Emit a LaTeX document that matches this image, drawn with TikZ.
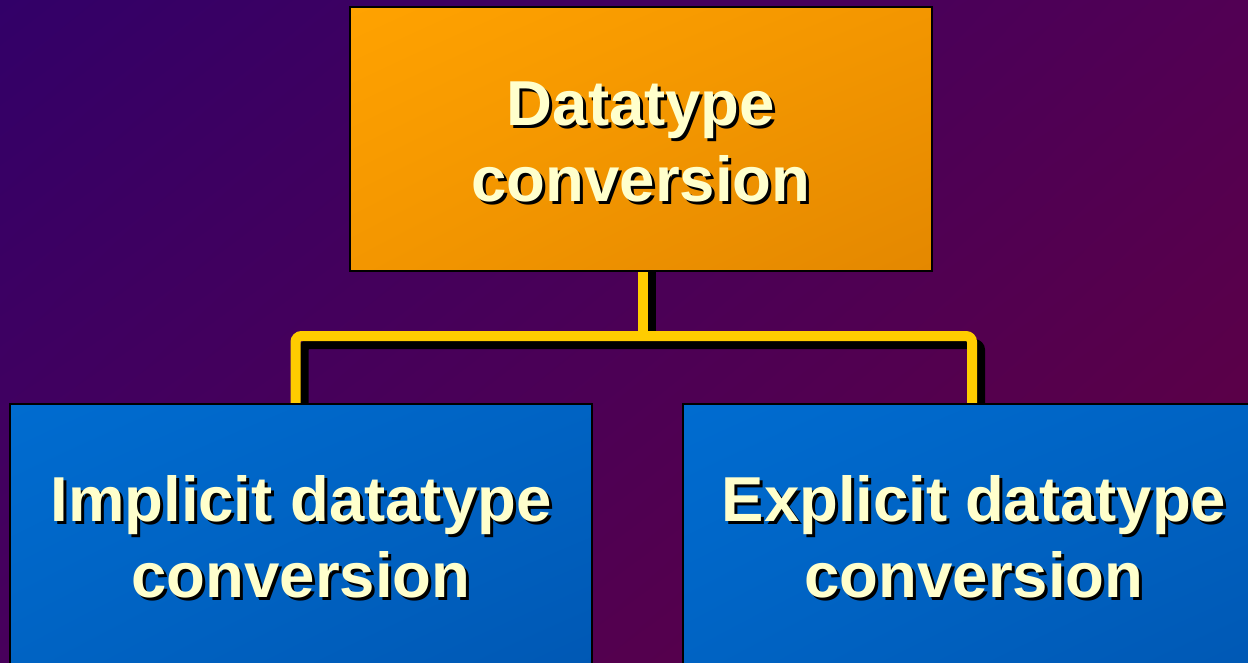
\documentclass[tikz,border=0pt]{standalone}
\usepackage{fontspec}
\usetikzlibrary{shadings}
\setmainfont{Liberation Sans}
\definecolor{bgUL}{RGB}{50,0,104}
\definecolor{bgUR}{RGB}{82,0,84}
\definecolor{bgLL}{RGB}{72,0,92}
\definecolor{bgLR}{RGB}{96,0,64}
\definecolor{orUL}{RGB}{255,162,0}
\definecolor{orMid}{RGB}{243,150,0}
\definecolor{orLR}{RGB}{228,136,0}
\definecolor{blUL}{RGB}{0,108,208}
\definecolor{blMid}{RGB}{0,99,195}
\definecolor{blLR}{RGB}{0,88,180}
\definecolor{labelyellow}{RGB}{255,255,204}
\definecolor{linkyellow}{RGB}{255,204,0}
% text with a black drop shadow behind it
\newcommand\shtxt[1]{\makebox[0pt][l]{\kern3pt\raisebox{-3pt}{\color{black}#1}}#1}
\pgfdeclarelayer{backdrop}
\pgfdeclarelayer{links}
\pgfsetlayers{backdrop,links,main}
\begin{document}
\begin{tikzpicture}[x=1pt,y=-1pt,
  box/.style={draw=black, line width=2pt, inner sep=0pt,
    minimum width=582pt, minimum height=264pt},
  orangebox/.style={box, upper left=orUL, upper right=orMid,
    lower left=orMid, lower right=orLR},
  bluebox/.style={box, upper left=blUL, upper right=blMid,
    lower left=blMid, lower right=blLR},
  lbl/.style={text=labelyellow, inner sep=0pt, align=center,
    font=\fontsize{63.5}{76}\selectfont\bfseries},
  link/.style={draw=linkyellow, line width=10pt, rounded corners=6pt},
  linkshadow/.style={draw=black, line width=10pt, rounded corners=6pt}]
\useasboundingbox (0,0) rectangle (1248,662);
\clip (0,0) rectangle (1248,662);
\begin{pgfonlayer}{backdrop}
\shade[upper left=bgUL, upper right=bgUR, lower left=bgLL, lower right=bgLR]
  (0,0) rectangle (1248,662);
\end{pgfonlayer}

\node[orangebox] (top) at (641,138.5) {};
\node[bluebox] (left) at (301,536) {};
\node[bluebox] (right) at (974,536) {};

% connector tree with its shadow, kept underneath the boxes
\begin{pgfonlayer}{links}
\coordinate (j) at (643,336);
\coordinate (js) at (651,344);
\draw[linkshadow] (top.south -| js) -- (js);
\draw[linkshadow] ([xshift=2.5pt]left.north) |- (js) -| ([xshift=6pt]right.north);
\draw[link] (top.south -| j) -- (j);
\draw[link] ([xshift=-5.5pt]left.north) |- (j) -| ([xshift=-2pt]right.north);
\end{pgfonlayer}

\node[lbl] (toplabel) at (641,143.5) {\shtxt{Datatype}\\\shtxt{conversion}};
\node[lbl] (leftlabel) at (301,538.5) {\shtxt{Implicit datatype}\\\shtxt{conversion}};
\node[lbl] (rightlabel) at (974,538.5) {\shtxt{Explicit datatype}\\\shtxt{conversion}};
\end{tikzpicture}
\end{document}
